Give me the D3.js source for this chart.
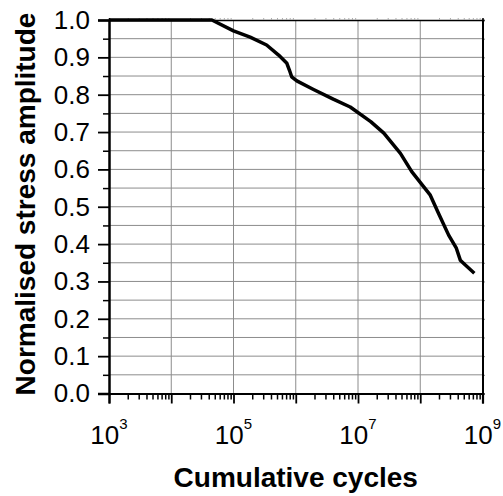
<!DOCTYPE html>
<html lang="en">

<head>
  <meta charset="UTF-8">
  <title>stress-cycles</title>
  <script src="https://cdn.jsdelivr.net/npm/d3@7"></script>
  <style type="text/css">
    body {
      margin: 0;
      background: white;
    }

    svg text {
      font-family: "Liberation Sans", Arial, sans-serif;
      fill: black;
    }

    .grid line {
      stroke: #8c8c8c;
      stroke-width: 1;
    }
  </style>
</head>

<body>
  <script type="text/javascript">
    // data
    var cycles = [1e3, 4.5e4, 1.0e5, 1.85e5, 3.4e5, 5.3e5, 7.2e5, 7.9e5, 8.6e5, 1.04e6, 1.93e6, 4.0e6,
      7.5e6, 1.6e7, 2.6e7, 4.8e7, 7.3e7, 1.45e8, 1.97e8, 2.86e8, 3.8e8, 4.4e8, 5.3e8, 7.4e8]
    var amplitude = [1.0, 1.0, 0.971, 0.954, 0.933, 0.906, 0.884, 0.866, 0.848, 0.837, 0.814, 0.788,
      0.767, 0.728, 0.697, 0.643, 0.594, 0.531, 0.482, 0.424, 0.389, 0.357, 0.344, 0.322]
    var yTicks = [0, 0.1, 0.2, 0.3, 0.4, 0.5, 0.6, 0.7, 0.8, 0.9, 1.0]
    var yMinorTicks = [0.05, 0.15, 0.25, 0.35, 0.45, 0.55, 0.65, 0.75, 0.85, 0.95]
    var xDecades = [1e3, 1e4, 1e5, 1e6, 1e7, 1e8, 1e9]
    var xLabelled = [3, 5, 7, 9]

    var w = 503
    var h = 496
    // plot box (window.top is read-only, so no "top" here)
    var pLeft = 109, pRight = 482.5, pTop = 20, pBottom = 393.5

    var x = d3.scaleLog().domain([1e3, 1e9]).range([pLeft, pRight])
    var y = d3.scaleLinear().domain([0, 1]).range([pBottom, pTop])

    var xMinor = []
    xDecades.slice(0, -1).forEach(function (d) {
      for (var k = 2; k <= 9; k++) xMinor.push(d * k)
    })

    var svg = d3.select('body').append('svg').attr('width', w).attr('height', h)

    // grid
    var grid = svg.append('g').attr('class', 'grid')
    grid.selectAll('line.v').data(xDecades.slice(1, -1)).enter().append('line').attr('class', 'v')
      .attr('x1', function (d) { return x(d) }).attr('x2', function (d) { return x(d) })
      .attr('y1', pTop).attr('y2', pBottom)
    grid.selectAll('line.h').data(yTicks.slice(1, -1).concat(yMinorTicks)).enter().append('line').attr('class', 'h')
      .attr('x1', pLeft).attr('x2', pRight)
      .attr('y1', function (d) { return y(d) }).attr('y2', function (d) { return y(d) })

    // top and right frame
    svg.append('g').attr('transform', 'translate(0,' + pTop + ')')
      .call(d3.axisTop(x).tickValues(xMinor).tickSize(2).tickFormat(''))
      .call(function (g) { g.select('.domain').attr('stroke-width', 1.5) })
      .call(function (g) { g.selectAll('.tick line').attr('stroke', '#aaa') })
    svg.append('g').attr('transform', 'translate(' + pRight + ',0)')
      .call(d3.axisRight(y).tickValues(yTicks.concat(yMinorTicks)).tickSize(2).tickFormat(''))
      .call(function (g) { g.select('.domain').attr('stroke-width', 2) })

    // bottom axis
    var xAxis = svg.append('g').attr('transform', 'translate(0,' + pBottom + ')')
    xAxis.append('g')
      .call(d3.axisBottom(x).tickValues(xMinor).tickSize(6).tickFormat(''))
      .call(function (g) { g.selectAll('.tick line').attr('stroke-width', 1.5) })
    xAxis.append('g')
      .call(d3.axisBottom(x).tickValues(xDecades).tickSize(10).tickFormat(''))
      .call(function (g) { g.select('.domain').attr('stroke-width', 2.2) })
      .call(function (g) { g.selectAll('.tick line').attr('stroke-width', 1.8) })

    var xl = xAxis.selectAll('text.lab').data(xLabelled).enter().append('text').attr('class', 'lab')
      .attr('x', function (d) { return x(Math.pow(10, d)) })
      .attr('y', 50)
      .attr('text-anchor', 'middle')
    xl.append('tspan').attr('font-size', '26px').text('10')
    xl.append('tspan').attr('font-size', '15px').attr('dy', '-15').text(function (d) { return d })

    // left axis
    svg.append('g').attr('transform', 'translate(' + pLeft + ',0)')
      .call(d3.axisLeft(y).tickValues(yMinorTicks).tickSize(6).tickFormat(''))
      .call(function (g) { g.select('.domain').remove() })
      .call(function (g) { g.selectAll('.tick line').attr('stroke-width', 1.5) })
    svg.append('g').attr('transform', 'translate(' + pLeft + ',0)')
      .call(d3.axisLeft(y).tickValues(yTicks).tickSize(11).tickPadding(8).tickFormat(d3.format('.1f')))
      .call(function (g) { g.select('.domain').attr('stroke-width', 2.5) })
      .call(function (g) { g.selectAll('.tick line').attr('stroke-width', 1.8) })
      .call(function (g) { g.selectAll('.tick text').attr('font-size', '26px').attr('font-family', null) })

    // curve
    var line = d3.line()
      .x(function (d, i) { return x(cycles[i]) })
      .y(function (d) { return y(d) })
    svg.append('path').datum(amplitude)
      .attr('d', line)
      .attr('fill', 'none')
      .attr('stroke', 'black')
      .attr('stroke-width', 3.5)
      .attr('stroke-linejoin', 'round')

    // titles
    svg.append('text')
      .attr('x', (pLeft + pRight) / 2).attr('y', 487)
      .attr('text-anchor', 'middle')
      .attr('font-size', '28px').attr('font-weight', 'bold')
      .text('Cumulative cycles')
    svg.append('text')
      .attr('transform', 'translate(35,' + 204 + ') rotate(-90)')
      .attr('text-anchor', 'middle')
      .attr('font-size', '28px').attr('font-weight', 'bold')
      .text('Normalised stress amplitude')
  </script>
</body>

</html>
